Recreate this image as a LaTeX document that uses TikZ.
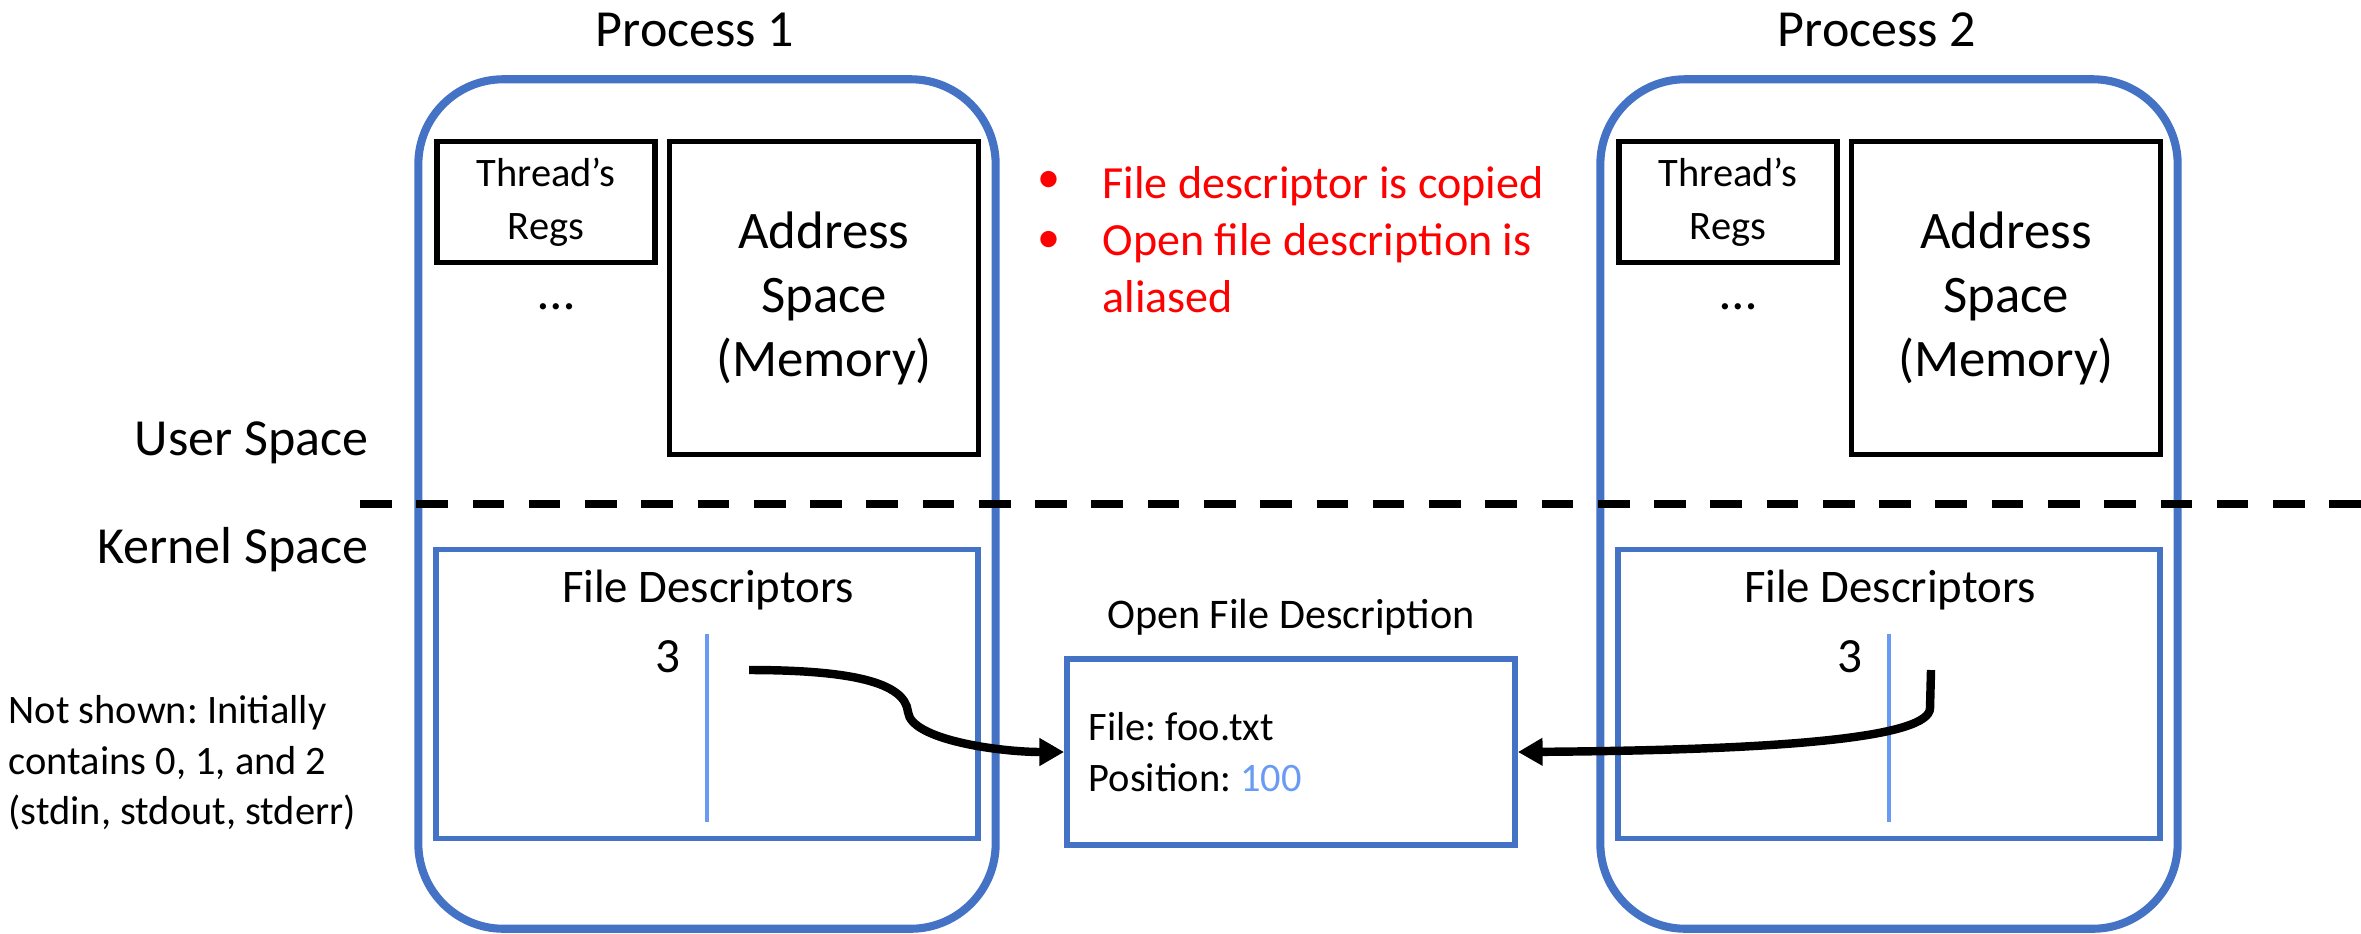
\documentclass[tikz,border=0pt]{standalone}
\usepackage{fontspec}
\setmainfont{Carlito}
\usetikzlibrary{arrows.meta}
\definecolor{boxblue}{HTML}{4472C4}
\definecolor{lineblue}{HTML}{6A9BF4}
\definecolor{notered}{HTML}{FF0000}
\frenchspacing

\begin{document}
\begin{tikzpicture}
[x=0.01cm, y=-0.01cm,
  procdecorate/.style={draw=boxblue, line width=2.3pt, rounded corners=0.85cm,
    minimum width=5.77cm, minimum height=8.49cm},
  regsdecorate/.style={draw, line width=1.6pt, inner sep=0pt, align=center,
    minimum width=2.18cm, minimum height=1.21cm,
    font=\fontsize{11.5}{15}\selectfont},
  addrdecorate/.style={draw, line width=1.6pt, inner sep=0pt, align=center,
    minimum width=3.09cm, minimum height=3.13cm,
    font=\fontsize{15}{18.2}\selectfont},
  tabledecorate/.style={draw=boxblue, line width=1.6pt, inner sep=0pt,
    minimum width=5.42cm, minimum height=2.89cm},
  labeldecorate/.style={inner sep=0pt, font=\fontsize{14.8}{17}\selectfont},
  smalldecorate/.style={inner sep=0pt, align=left,
    font=\fontsize{11.5}{14.3}\selectfont},
  notedecorate/.style={inner sep=0pt, align=left, text=notered,
    font=\fontsize{13.1}{16.2}\selectfont},
  linedecorate/.style={-{Triangle[length=7pt,width=7.5pt]}, line width=2.4pt}]
\useasboundingbox (0,0) rectangle (2361,933);
%% processes
\foreach \pnum/\dx in {1/0, 2/1182} {
  \node (proc\pnum) at (707+\dx,504) [procdecorate] {};
  \node (title\pnum) at (695+\dx,30) [labeldecorate] {Process \pnum};
  \node (regs\pnum) at (546+\dx,202) [regsdecorate] {Thread’s\\Regs};
  \node (dots\pnum) at (556+\dx,307) [labeldecorate] {…};
  \node (addr\pnum) at (824+\dx,298) [addrdecorate] {Address\\Space\\(Memory)};
  \node (fd\pnum) at (707+\dx,694) [tabledecorate] {};
  \node (fdlabel\pnum) at (708+\dx,590) [inner sep=0pt,
    font=\fontsize{13.3}{16}\selectfont] {File Descriptors};
  \node (fdnum\pnum) at (668+\dx,657) [inner sep=0pt,
    font=\fontsize{14}{16}\selectfont] {3};
  \draw[lineblue, line width=0.9pt] (707+\dx,634) -- ++(0,188);
  \coordinate (src\pnum) at (749+\dx,670);
}
%% user / kernel split
\node (user) at (369,443) [labeldecorate, anchor=east] {User Space};
\node (kernel) at (369,550) [labeldecorate, anchor=east] {Kernel Space};
\coordinate (splitl) at (360,504);
\coordinate (splitr) at (2361,504);
\draw[line width=2.3pt, dash pattern=on 9pt off 7pt] (splitl) -- (splitr);
%% shared open file description
\node (ofd) at (1291,752) [tabledecorate, minimum width=4.48cm,
  minimum height=1.86cm] {};
\node (ofdlabel) at (1291,617) [inner sep=0pt,
  font=\fontsize{12}{14}\selectfont] {Open File Description};
\node (ofdtext) at (1088,752) [smalldecorate, anchor=west]
  {File: foo.txt\\Position: \textcolor{lineblue}{100}};
%% notes
\node (bul1) at (1049,182) [notedecorate] {•};
\node (bul2) at (1049,242) [notedecorate] {•};
\node (notes) at (1102,240) [notedecorate, anchor=west]
  {File descriptor is copied\\Open file description is\\aliased};
\node (hidden) at (8,763) [smalldecorate, anchor=west]
  {Not shown: Initially\\contains 0, 1, and 2\\(stdin, stdout, stderr)};
%% arrows
\draw[linedecorate] (src1) .. controls (850,670) and (905,682) .. (908,712)
  .. controls (911,740) and (1000,752) .. (ofd.west);
\draw[linedecorate] (src2) -- (1930,708)
  .. controls (1930,738) and (1780,750) .. (ofd.east);
\end{tikzpicture}
\end{document}
